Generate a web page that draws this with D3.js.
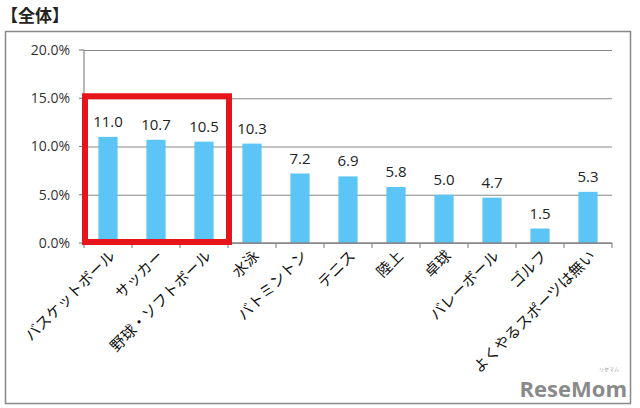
<!DOCTYPE html>
<html>
<head>
<meta charset="utf-8">
<script src="https://cdn.jsdelivr.net/npm/d3@7"></script>
<style>
  body { margin: 0; background: #fff; }
  text { font-family: "Noto Sans CJK JP", "Noto Sans", sans-serif; }
</style>
</head>
<body>
<svg id="chart" width="640" height="408"></svg>
<script>
var categories = ["バスケットボール", "サッカー", "野球・ソフトボール", "水泳", "バトミントン",
  "テニス", "陸上", "卓球", "バレーボール", "ゴルフ", "よくやるスポーツは無い"];
var values = [11.0, 10.7, 10.5, 10.3, 7.2, 6.9, 5.8, 5.0, 4.7, 1.5, 5.3];
var yTicks = [0, 5, 10, 15, 20];
var highlighted = ["バスケットボール", "サッカー", "野球・ソフトボール"];

var svg = d3.select("#chart"),
  margin = { top: 50, right: 28, bottom: 165, left: 84 },
  width = +svg.attr("width"),
  height = +svg.attr("height");

// title
svg.append("text")
  .attr("x", 1).attr("y", 22)
  .attr("font-size", 17).attr("font-weight", "bold")
  .attr("fill", "#222")
  .text("【全体】");

// outer frame
svg.append("rect")
  .attr("x", 5.5).attr("y", 31.5)
  .attr("width", 625).attr("height", 372)
  .attr("fill", "none").attr("stroke", "#888").attr("stroke-width", 1.5);

var x = d3.scaleBand()
  .domain(categories)
  .range([margin.left, width - margin.right])
  .paddingInner(0.6).paddingOuter(0.3);

var y = d3.scaleLinear()
  .domain([0, 20])
  .range([height - margin.bottom, margin.top]);

// gridlines + y axis
svg.append("g")
  .attr("class", "y-axis")
  .attr("transform", "translate(" + margin.left + ",0)")
  .call(d3.axisLeft(y).tickValues(yTicks)
    .tickSize(-(width - margin.right - margin.left))
    .tickPadding(14)
    .tickFormat(d => d.toFixed(1) + "%"))
  .call(g => g.select(".domain").remove())
  .call(g => g.selectAll(".tick line").attr("stroke", "#888").attr("stroke-width", 1.2))
  .call(g => g.selectAll(".tick text").attr("font-size", 14).attr("fill", "#333")
    .style("font-family", "'Open Sans', 'Noto Sans', sans-serif"));

// small left tick marks
svg.append("g")
  .selectAll("line").data(yTicks).join("line")
  .attr("x1", margin.left - 5).attr("x2", margin.left)
  .attr("y1", d => y(d)).attr("y2", d => y(d))
  .attr("stroke", "#888").attr("stroke-width", 1.2);

svg.append("line")
  .attr("x1", margin.left).attr("x2", margin.left)
  .attr("y1", y(20)).attr("y2", y(0))
  .attr("stroke", "#888").attr("stroke-width", 1.2);

// bars
svg.append("g").selectAll("rect")
  .data(values)
  .join("rect")
  .attr("x", (d, i) => x(categories[i]))
  .attr("y", d => y(d))
  .attr("width", x.bandwidth())
  .attr("height", d => y(0) - y(d))
  .attr("fill", "#5bc5f5");

// x axis with tick marks at band boundaries
var step = x.step();
var x0 = margin.left;
var boundaries = d3.range(categories.length + 1);
svg.append("line")
  .attr("x1", x0).attr("x2", width - margin.right)
  .attr("y1", y(0)).attr("y2", y(0))
  .attr("stroke", "#888").attr("stroke-width", 1.5);
svg.append("g").selectAll("line")
  .data(boundaries).join("line")
  .attr("x1", d => x0 + d * step).attr("x2", d => x0 + d * step)
  .attr("y1", y(0)).attr("y2", y(0) + 5)
  .attr("stroke", "#888").attr("stroke-width", 1.2);

// value labels
svg.append("g").selectAll("text")
  .data(values)
  .join("text")
  .attr("x", (d, i) => x(categories[i]) + x.bandwidth() / 2)
  .attr("y", d => y(d) - 10)
  .attr("text-anchor", "middle")
  .attr("font-size", 15)
  .attr("fill", "#222")
  .style("font-family", "'Open Sans', 'Noto Sans', sans-serif")
  .text(d => d.toFixed(1));

// category labels, rotated
svg.append("g").selectAll("text")
  .data(categories)
  .join("text")
  .attr("transform", d => "translate(" + (x(d) + x.bandwidth() / 2 + 8) + "," + (y(0) + 14) + ") rotate(-45)")
  .attr("text-anchor", "end")
  .attr("font-size", 15)
  .attr("fill", "#111")
  .text(d => d);

// red highlight box
var hx0 = x(highlighted[0]) - (step - x.bandwidth()) / 2 + 1;
var hx1 = x(highlighted[highlighted.length - 1]) + x.bandwidth() + (step - x.bandwidth()) / 2 + 1;
svg.append("rect")
  .attr("x", hx0).attr("y", y(15) - 2)
  .attr("width", hx1 - hx0).attr("height", y(0) - y(15) + 1)
  .attr("fill", "none")
  .attr("stroke", "#e8141c")
  .attr("stroke-width", 6);

// watermark
svg.append("text")
  .attr("x", 627).attr("y", 397)
  .attr("text-anchor", "end")
  .attr("font-size", 22).attr("font-weight", "bold")
  .attr("fill", "#8a8a8a")
  .style("font-family", "'Open Sans', sans-serif")
  .text("ReseMom");
svg.append("text")
  .attr("x", 619).attr("y", 371)
  .attr("text-anchor", "end")
  .attr("font-size", 5)
  .attr("fill", "#999")
  .text("リセマム");
</script>
</body>
</html>
